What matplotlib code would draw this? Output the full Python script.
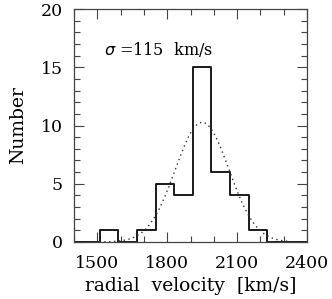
import numpy as np
import matplotlib.pyplot as plt
from matplotlib.ticker import MultipleLocator

# bin edges and counts
edges = [1510, 1590, 1670, 1750, 1830, 1910, 1990, 2070, 2150, 2230]
counts = [1, 0, 1, 5, 4, 15, 6, 4, 1]
v_mean = 1950
sigma = 115
n_tot = sum(counts)
bin_w = 80

plt.rcParams['font.family'] = 'DejaVu Serif'
fig = plt.figure(figsize=(3.32, 2.99), dpi=100)
ax = fig.add_axes([74 / 332, 57 / 299, 233 / 332, 233 / 299])

# histogram as a step line, with the zero baseline out to the frame
x_step = [1400] + edges + [2400]
y_step = [0] + counts + [0, 0]
ax.step(x_step, y_step, where='post', color='#1a1a1a', lw=1.4)

# gaussian fit
v = np.linspace(1530, 2330, 200)
g = n_tot * bin_w / (np.sqrt(2 * np.pi) * sigma) * np.exp(-0.5 * ((v - v_mean) / sigma) ** 2)
ax.plot(v, g, color='#333333', lw=1.0, ls=(0, (1, 2.5)))

ax.text(1527, 16.5, r'$\sigma$ =115  km/s', fontsize=11.5, va='center')

ax.set_xlim(1400, 2400)
ax.set_ylim(0, 20)
ax.set_xticks([1500, 1800, 2100, 2400])
ax.xaxis.set_minor_locator(MultipleLocator(100))
ax.yaxis.set_major_locator(MultipleLocator(5))
ax.yaxis.set_minor_locator(MultipleLocator(1))
ax.tick_params(which='both', direction='in', top=True, right=True, color='#444444', width=0.8)
ax.tick_params(which='major', length=7, labelsize=12.5)
ax.tick_params(axis='x', which='major', pad=9)
ax.tick_params(axis='y', which='major', pad=8)
ax.tick_params(which='minor', length=4.5)
for s in ax.spines.values():
    s.set_color('#444444')
    s.set_linewidth(0.9)

ax.set_xlabel('radial  velocity  [km/s]', fontsize=13.5, labelpad=4)
ax.set_ylabel('Number', fontsize=13.5, labelpad=10)

fig.savefig('out.png', dpi=100)
